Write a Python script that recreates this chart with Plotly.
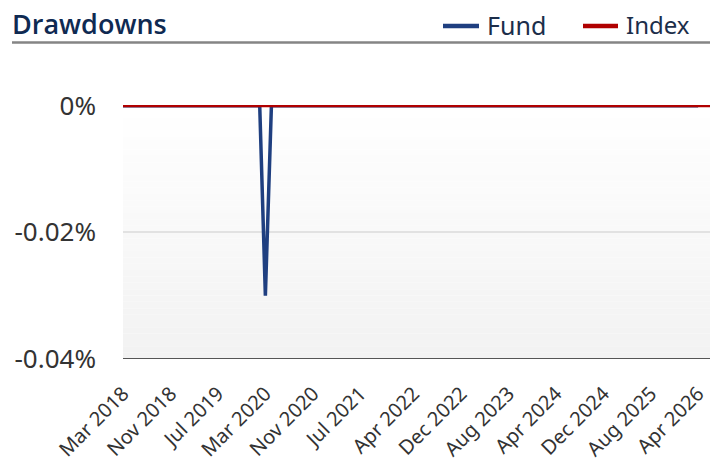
import plotly.graph_objects as go

# Data (monthly drawdowns, flat at 0 except the Mar 2020 dip)
fund_dates = ["2018-03-01", "2020-02-01", "2020-03-01", "2020-04-01", "2026-04-01"]
fund_values = [0.0, 0.0, -0.03, 0.0, 0.0]
index_dates = ["2018-03-01", "2026-06-01"]
index_values = [0.0, 0.0]

tick_dates = ["2018-03-01", "2018-11-01", "2019-07-01", "2020-03-01", "2020-11-01",
              "2021-07-01", "2022-04-01", "2022-12-01", "2023-08-01", "2024-04-01",
              "2024-12-01", "2025-08-01", "2026-04-01"]
tick_labels = ["Mar 2018", "Nov 2018", "Jul 2019", "Mar 2020", "Nov 2020", "Jul 2021",
               "Apr 2022", "Dec 2022", "Aug 2023", "Apr 2024", "Dec 2024", "Aug 2025", "Apr 2026"]
y_ticks = [0, -0.02, -0.04]
y_labels = ["0%", "-0.02%", "-0.04%"]

FUND_COLOR = "#1f3f80"
INDEX_COLOR = "#b00000"

W, H = 710, 464
L, R, T, B = 123, 0, 105, 105
pw, ph = W - L - R, H - T - B


def px(x):
    return (x - L) / pw


def py(y):
    return (H - B - y) / ph


fig = go.Figure()
fig.add_trace(go.Scatter(x=fund_dates, y=fund_values, name="Fund", mode="lines",
                         line=dict(color=FUND_COLOR, width=3.5), showlegend=False))
fig.add_trace(go.Scatter(x=index_dates, y=index_values, name="Index", mode="lines",
                         line=dict(color=INDEX_COLOR, width=3), showlegend=False))

shapes = []
# gradient background
n = 40
for i in range(n):
    t = i / (n - 1)
    g = int(round(255 - (255 - 242) * t))
    shapes.append(dict(type="rect", xref="paper", yref="paper", x0=0, x1=1,
                       y0=1 - (i + 1) / n, y1=1 - i / n, fillcolor=f"rgb({g},{g},{g})",
                       line=dict(width=0), layer="below"))
# header underline
shapes.append(dict(type="line", xref="paper", yref="paper", x0=px(12), x1=1,
                   y0=py(42.5), y1=py(42.5), line=dict(color="#858585", width=2.5)))
# legend swatches
shapes.append(dict(type="line", xref="paper", yref="paper", x0=px(443), x1=px(479),
                   y0=py(26), y1=py(26), line=dict(color=FUND_COLOR, width=4.5)))
shapes.append(dict(type="line", xref="paper", yref="paper", x0=px(583), x1=px(618),
                   y0=py(26), y1=py(26), line=dict(color=INDEX_COLOR, width=4.5)))
# bottom axis line
shapes.append(dict(type="line", xref="paper", yref="y", x0=0, x1=1,
                   y0=-0.04, y1=-0.04, line=dict(color="#555555", width=2)))

annotations = [
    dict(text="Drawdowns", xref="paper", yref="paper", x=px(10), y=py(24),
         xanchor="left", yanchor="middle", showarrow=False,
         font=dict(family="Open Sans", size=27, color="#0f2a52", weight=600)),
    dict(text="Fund", xref="paper", yref="paper", x=px(485), y=py(25),
         xanchor="left", yanchor="middle", showarrow=False,
         font=dict(family="Noto Sans", size=25, color="#1c2e4a")),
    dict(text="Index", xref="paper", yref="paper", x=px(624), y=py(25),
         xanchor="left", yanchor="middle", showarrow=False,
         font=dict(family="Noto Sans", size=24, color="#1c2e4a")),
]

fig.update_layout(
    width=W, height=H,
    margin=dict(l=L, r=R, t=T, b=B, autoexpand=False),
    paper_bgcolor="white", plot_bgcolor="rgba(0,0,0,0)",
    shapes=shapes, annotations=annotations,
    showlegend=False,
    xaxis=dict(type="date", range=["2018-03-01", "2026-06-01"], tickvals=tick_dates,
               ticktext=tick_labels, tickangle=-45, showgrid=False, zeroline=False,
               ticks="", automargin=False, ticklabeloverflow="allow",
               tickfont=dict(family="Noto Sans", size=20, color="#333333"),
               ticklabelstandoff=18),
    yaxis=dict(range=[-0.04, 0.0001], tickvals=y_ticks, ticktext=y_labels,
               showgrid=True, gridcolor="#e2e2e2", gridwidth=2, zeroline=False,
               showline=False, ticks="", automargin=False,
               tickfont=dict(family="Noto Sans", size=26, color="#333333"),
               ticklabelstandoff=26),
)

fig.write_html("out.html", config={"displayModeBar": False},
               post_script="document.body.style.margin='0';document.body.style.overflow='hidden';")
